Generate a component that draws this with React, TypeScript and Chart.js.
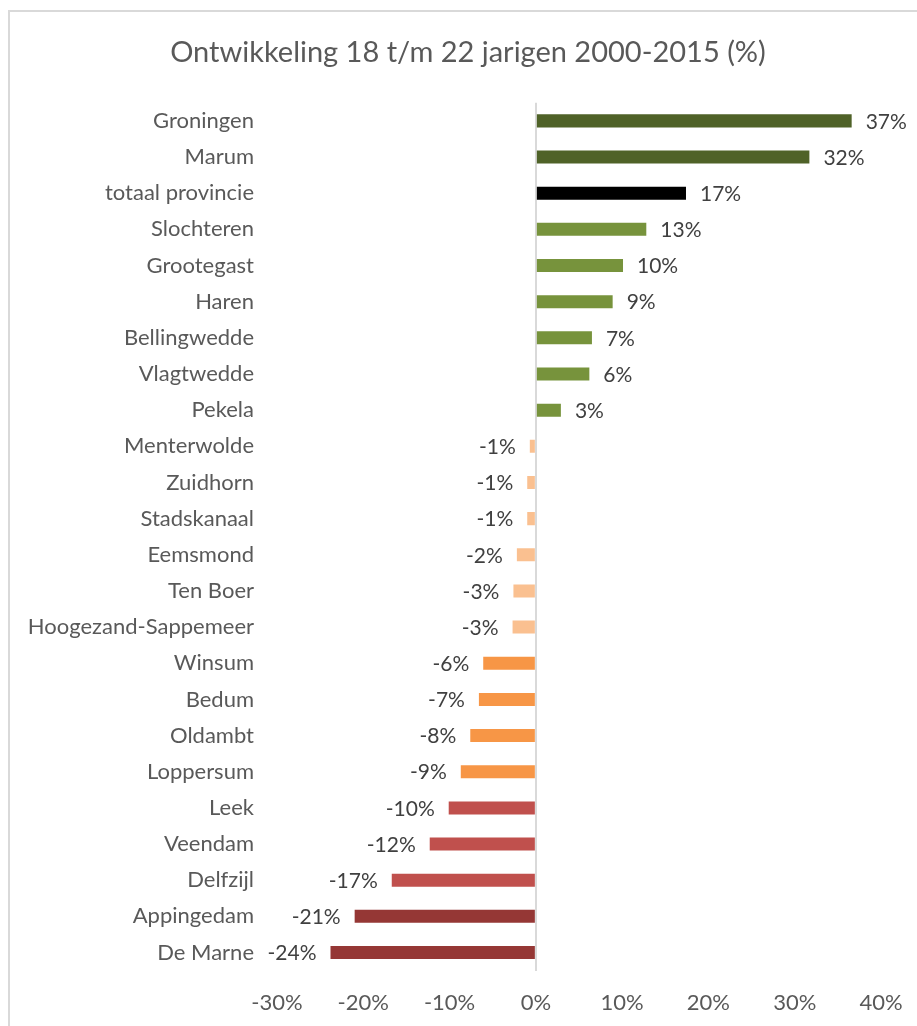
import React, { useEffect, useRef } from "react";
import { Chart, registerables } from "chart.js";

Chart.register(...registerables);

const TITLE = "Ontwikkeling 18 t/m 22 jarigen 2000-2015 (%)";

const categories: string[] = [
  "Groningen", "Marum", "totaal provincie", "Slochteren", "Grootegast", "Haren",
  "Bellingwedde", "Vlagtwedde", "Pekela", "Menterwolde", "Zuidhorn", "Stadskanaal",
  "Eemsmond", "Ten Boer", "Hoogezand-Sappemeer", "Winsum", "Bedum", "Oldambt",
  "Loppersum", "Leek", "Veendam", "Delfzijl", "Appingedam", "De Marne",
];

const values: number[] = [
  36.6, 31.7, 17.4, 12.8, 10.1, 8.9,
  6.5, 6.2, 2.9, -0.7, -1.0, -1.0,
  -2.2, -2.6, -2.7, -6.1, -6.6, -7.6,
  -8.7, -10.1, -12.3, -16.7, -21.0, -23.8,
];

const barColors: string[] = [
  "#4F6228", "#4F6228", "#000000", "#77933C", "#77933C", "#77933C",
  "#77933C", "#77933C", "#77933C", "#FAC090", "#FAC090", "#FAC090",
  "#FAC090", "#FAC090", "#FAC090", "#F79646", "#F79646", "#F79646",
  "#F79646", "#C0504D", "#C0504D", "#C0504D", "#953735", "#953735",
];

const xMin = -30;
const xMax = 40;
const xStep = 10;

const FONT = "Lato";

const valueLabels = {
  id: "valueLabels",
  afterLayout(chart: any) {
    // allow long category labels to extend left of the axis box
    if (chart.scales.y) chart.scales.y.left = 0;
  },
  afterDatasetsDraw(chart: any) {
    const { ctx } = chart;
    const meta = chart.getDatasetMeta(0);
    ctx.save();
    ctx.font = `21px ${FONT}`;
    ctx.fillStyle = "#404040";
    ctx.textBaseline = "middle";
    meta.data.forEach((bar: any, i: number) => {
      const v = values[i];
      const txt = Math.round(v) + "%";
      if (v >= 0) {
        ctx.textAlign = "left";
        ctx.fillText(txt, bar.x + 14, bar.y + 1);
      } else {
        ctx.textAlign = "right";
        ctx.fillText(txt, bar.x - 14, bar.y + 1);
      }
    });
    ctx.restore();
  },
};

export default function App() {
  const ref = useRef<HTMLCanvasElement | null>(null);

  useEffect(() => {
    if (!ref.current) return;
    const chart = new Chart(ref.current, {
      type: "bar",
      data: {
        labels: categories,
        datasets: [
          {
            data: values,
            backgroundColor: barColors,
            borderWidth: 0,
            barPercentage: 0.36,
            categoryPercentage: 1,
          },
        ],
      },
      options: {
        indexAxis: "y",
        responsive: false,
        animation: false,
        layout: { padding: { left: 55, right: 36, top: 0, bottom: 0 } },
        plugins: {
          legend: { display: false },
          tooltip: { enabled: false },
          title: {
            display: true,
            text: TITLE,
            color: "#595959",
            font: { family: FONT, size: 29, weight: "normal" },
            padding: { top: 35, bottom: 33 },
          },
        },
        scales: {
          x: {
            min: xMin,
            max: xMax,
            afterFit: (scale: any) => {
              scale.paddingLeft = 0;
              scale.paddingRight = 0;
            },
            ticks: {
              stepSize: xStep,
              callback: (v: any) => v + "%",
              color: "#595959",
              font: { family: FONT, size: 22 },
              padding: 19,
            },
            grid: {
              drawTicks: false,
              lineWidth: 2,
              color: (c: any) => (c.tick && c.tick.value === 0 ? "#D9D9D9" : "rgba(0,0,0,0)"),
            },
            border: { display: false },
          },
          y: {
            afterFit: (scale: any) => {
              scale.width = 222;
            },
            ticks: {
              color: "#595959",
              font: { family: FONT, size: 22 },
              padding: 23,
              autoSkip: false,
            },
            grid: { display: false, drawTicks: false },
            border: { display: false },
          },
        },
      },
      plugins: [valueLabels],
    });
    return () => chart.destroy();
  }, []);

  return (
    <div>
      <div
        style={{
          position: "fixed",
          left: 8,
          top: 10,
          width: 920,
          height: 1030,
          borderLeft: "2px solid #D9D9D9",
          borderTop: "2px solid #D9D9D9",
          boxSizing: "border-box",
        }}
      />
      <canvas
        ref={ref}
        width={917}
        height={1035}
        style={{ position: "fixed", left: 0, top: 0, width: 917, height: 1035 }}
      />
    </div>
  );
}
